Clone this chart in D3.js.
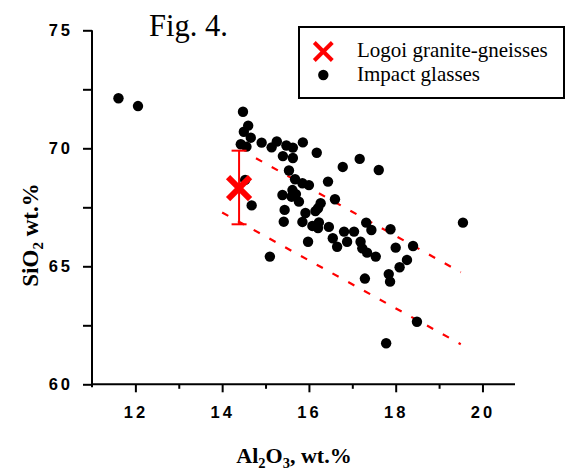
<!DOCTYPE html>
<html><head><meta charset="utf-8">
<script src="https://cdn.jsdelivr.net/npm/d3@7"></script>
<style>
html,body{margin:0;padding:0;background:#fff;}
svg{display:block;}
</style></head>
<body>
<script>
// ---- data ----
const glassAl2O3 = [11.61,12.06,14.48,14.60,14.50,14.66,14.43,14.56,14.91,15.14,15.26,15.48,15.63,15.86,15.40,15.63,16.18,17.17,16.78,17.61,15.54,14.53,14.68,15.68,15.85,16.00,16.44,15.39,15.62,15.60,15.77,15.44,15.92,16.27,16.21,16.15,16.60,15.42,15.85,16.08,16.23,16.21,16.46,16.81,17.04,15.98,16.55,16.65,16.88,17.19,17.23,17.34,17.54,17.32,17.44,17.88,18.00,18.40,18.26,18.09,17.84,17.87,17.29,19.55,18.49,17.78,15.10,15.70];
const glassSiO2  = [72.12,71.79,71.55,70.96,70.70,70.45,70.17,70.07,70.24,70.04,70.29,70.12,70.03,70.25,69.67,69.59,69.81,69.55,69.21,69.08,69.06,68.66,67.58,68.69,68.52,68.44,68.59,68.02,68.23,67.95,67.74,67.39,67.26,67.67,67.46,67.34,67.84,66.89,66.88,66.71,66.86,66.62,66.67,66.47,66.47,66.04,66.19,65.83,66.04,66.04,65.76,65.58,65.41,66.85,66.54,66.57,65.79,65.86,65.27,64.96,64.67,64.35,64.48,66.85,62.65,61.74,65.41,68.06];
const graniteAl2O3 = [14.39];
const graniteSiO2 = [68.31];
const graniteSiO2Range = [66.78, 69.90];
const upperTrendAl2O3 = [14.78, 19.50];
const upperTrendSiO2  = [69.58, 64.75];
const lowerTrendAl2O3 = [14.00, 19.50];
const lowerTrendSiO2  = [67.28, 61.70];
const xMajorTicks = [12,14,16,18,20];
const xMinorTicks = [13,15,17,19];
const yMajorTicks = [60,65,70,75];
const yMinorTicks = [62.5,67.5,72.5];
const legendLabels = ["Logoi granite-gneisses","Impact glasses"];
const titleText = "Fig. 4.";

// ---- layout ----
const W = 571, H = 473;
const svg = d3.select("body").append("svg").attr("width",W).attr("height",H);
const x = d3.scaleLinear().domain([11,20.75]).range([92,515]);
const y = d3.scaleLinear().domain([60,75]).range([384.3,30.3]);
const red = "#ff0000";
const tickFont = "'Liberation Sans Narrow','Liberation Sans',Arial,sans-serif";
const serif = "'Liberation Serif','Times New Roman',serif";

// axes
const xAxisG = svg.append("g").attr("transform",`translate(0,${y(60)})`);
xAxisG.call(d3.axisBottom(x).tickValues(xMajorTicks).tickSize(8).tickPadding(14).tickFormat(d3.format("d")));
xAxisG.append("g").call(d3.axisBottom(x).tickValues(xMinorTicks).tickSize(4.5).tickFormat(""));
xAxisG.selectAll(".domain").remove();
xAxisG.append("line").attr("x1",x(11)).attr("x2",x(20.75)).attr("y1",0).attr("y2",0).attr("stroke","#000").attr("stroke-width",2);

const yAxisG = svg.append("g").attr("transform",`translate(${x(11)},0)`);
yAxisG.call(d3.axisLeft(y).tickValues(yMajorTicks).tickSize(9).tickPadding(10).tickFormat(d3.format("d")));
yAxisG.append("g").call(d3.axisLeft(y).tickValues(yMinorTicks).tickSize(9).tickFormat(""));
yAxisG.selectAll(".domain").remove();
yAxisG.append("line").attr("x1",0).attr("x2",0).attr("y1",y(75)).attr("y2",y(60)+3).attr("stroke","#000").attr("stroke-width",2);

svg.selectAll(".tick line").attr("stroke","#000").attr("stroke-width",2);
svg.selectAll(".tick text").attr("fill","#000")
  .style("font-family",tickFont).style("font-size","16.5px").style("font-weight","bold").style("letter-spacing","3px");

// axis titles
const xt = svg.append("text").attr("x",294).attr("y",463).attr("text-anchor","middle")
  .style("font-family",serif).style("font-size","22px").style("font-weight","bold");
xt.append("tspan").text("Al");
xt.append("tspan").text("2").attr("dy",5).style("font-size","14.5px");
xt.append("tspan").text("O").attr("dy",-5);
xt.append("tspan").text("3").attr("dy",5).style("font-size","14.5px");
xt.append("tspan").text(", wt.%").attr("dy",-5);

const yt = svg.append("text").attr("transform","translate(38,235) rotate(-90)").attr("text-anchor","middle")
  .style("font-family",serif).style("font-size","23px").style("font-weight","bold");
yt.append("tspan").text("SiO");
yt.append("tspan").text("2").attr("dy",5).style("font-size","15px");
yt.append("tspan").text(" wt.%").attr("dy",-5);

// title
svg.append("text").attr("x",149).attr("y",36).text(titleText)
  .style("font-family",serif).style("font-size","30.5px");

// trend lines
const line = d3.line().x(d=>x(d[0])).y(d=>y(d[1]));
[[upperTrendAl2O3,upperTrendSiO2],[lowerTrendAl2O3,lowerTrendSiO2]].forEach(([xs,ys])=>{
  svg.append("path").datum(xs.map((v,i)=>[v,ys[i]])).attr("d",line)
    .attr("fill","none").attr("stroke",red).attr("stroke-width",2.2).attr("stroke-dasharray","7,11");
});

// glasses
svg.append("g").selectAll("circle").data(glassAl2O3.map((v,i)=>[v,glassSiO2[i]])).join("circle")
  .attr("cx",d=>x(d[0])).attr("cy",d=>y(d[1])).attr("r",5.2).attr("fill","#000");

// granite with error bar
graniteAl2O3.forEach((gx,i)=>{
  const cx = x(gx), cy = y(graniteSiO2[i]);
  const g = svg.append("g").attr("stroke",red);
  g.append("line").attr("x1",cx).attr("x2",cx).attr("y1",y(graniteSiO2Range[0])).attr("y2",y(graniteSiO2Range[1])).attr("stroke-width",2);
  [graniteSiO2Range[0],graniteSiO2Range[1]].forEach(v=>{
    g.append("line").attr("x1",cx-7.5).attr("x2",cx+7.5).attr("y1",y(v)).attr("y2",y(v)).attr("stroke-width",2);
  });
  const s = 11;
  g.append("line").attr("x1",cx-s).attr("y1",cy-s).attr("x2",cx+s).attr("y2",cy+s).attr("stroke-width",6);
  g.append("line").attr("x1",cx-s).attr("y1",cy+s).attr("x2",cx+s).attr("y2",cy-s).attr("stroke-width",6);
});

// legend
const lg = svg.append("g");
lg.append("rect").attr("x",299).attr("y",27).attr("width",265).attr("height",71)
  .attr("fill","#fff").attr("stroke","#000").attr("stroke-width",2);
const lx = 323.3, ly1 = 51.5, ly2 = 75;
lg.append("line").attr("x1",lx-9).attr("y1",ly1-9).attr("x2",lx+9).attr("y2",ly1+9).attr("stroke",red).attr("stroke-width",4);
lg.append("line").attr("x1",lx-9).attr("y1",ly1+9).attr("x2",lx+9).attr("y2",ly1-9).attr("stroke",red).attr("stroke-width",4);
lg.append("circle").attr("cx",lx).attr("cy",ly2).attr("r",5.2).attr("fill","#000");
lg.selectAll("text.leg").data(legendLabels).join("text").attr("class","leg")
  .attr("x",357).attr("y",(d,i)=>i===0?57:81).text(d=>d)
  .style("font-family",serif).style("font-size","21px");
</script>
</body></html>
